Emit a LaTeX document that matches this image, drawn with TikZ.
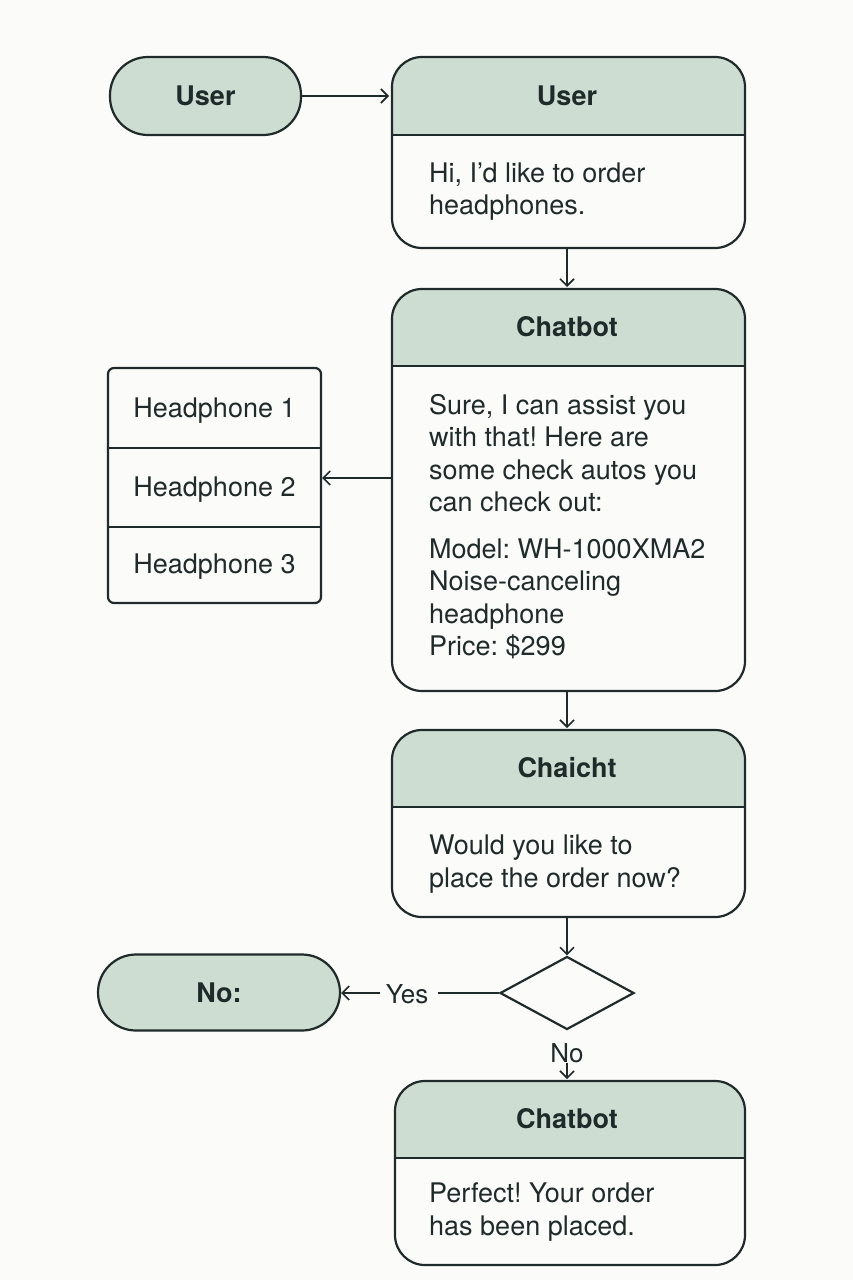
\documentclass[tikz,border=0pt]{standalone}
\usepackage{fontspec}
\setmainfont{TeX Gyre Heros}
\usetikzlibrary{arrows.meta,shapes.geometric}
\definecolor{sage}{HTML}{CEDDD1}
\definecolor{ink}{HTML}{1F2A2A}
\definecolor{bg}{HTML}{FBFBFA}
\frenchspacing
\tikzset{
  arr/.style={draw=ink, line width=1.6pt, -{Straight Barb[length=7pt,width=14pt,line width=1.6pt]}},
  bigbox/.style={draw=ink, line width=2.2pt, rounded corners=30, inner sep=0pt},
  pill/.style={draw=ink, line width=2.2pt, fill=sage, rounded corners=38, inner sep=0pt, font=\fontsize{27}{30}\selectfont\bfseries, text=ink},
  head/.style={font=\fontsize{27}{30}\selectfont\bfseries, text=ink, inner sep=0pt},
  lab/.style={font=\fontsize{26}{30}\selectfont, text=ink, inner sep=0pt},
  body/.style={font=\fontsize{27}{32.5}\selectfont, text=ink, align=left, anchor=north west, inner sep=0pt},
  item/.style={font=\fontsize{27}{30}\selectfont, text=ink, inner sep=0pt},
  divider/.style={draw=ink, line width=2.2pt},
}
\begin{document}
\begin{tikzpicture}[x=1pt,y=-1pt]
\fill[bg] (0,0) rectangle (853,1280);
\useasboundingbox (0,0) rectangle (853,1280);

% User pill
\node[pill, minimum width=191, minimum height=78] (u0) at (205.5,96) {User};

% Box 1
\fill[sage] (392,135) [rounded corners=30] -- (392,57) -- (745,57) [sharp corners] -- (745,135) -- cycle;
\node[bigbox, minimum width=353, minimum height=191] (b1) at (568.5,152.5) {};
\draw[divider] (392,135) -- (745,135);
\node[head] (h1) at (567,96) {User};
\node[body] (t1) at (429,162.5) {Hi, I’d like to order\\headphones.};

% Box 2
\fill[sage] (392,366) [rounded corners=30] -- (392,289) -- (745,289) [sharp corners] -- (745,366) -- cycle;
\node[bigbox, minimum width=353, minimum height=402] (b2) at (568.5,490) {};
\draw[divider] (392,366) -- (745,366);
\node[head] (h2) at (567,327) {Chatbot};
\node[body] (t2) at (429,394) {Sure, I can assist you\\with that! Here are\\some check autos you\\can check out:};
\node[body] (t3) at (429,538.5) {Model: WH-1000XMA2\\Noise-canceling\\headphone\\Price: \$299};

% Headphones list
\node[draw=ink, line width=2.2pt, rounded corners=6, minimum width=213, minimum height=235, inner sep=0pt] (lst) at (214.5,485.5) {};
\draw[divider] (108,448) -- (321,448);
\draw[divider] (108,527) -- (321,527);
\node[item] (i1) at (214.5,411) {Headphone 1};
\node[item] (i2) at (214.5,490) {Headphone 2};
\node[item] (i3) at (214.5,567) {Headphone 3};

% Box 3
\fill[sage] (392,807) [rounded corners=30] -- (392,730) -- (745,730) [sharp corners] -- (745,807) -- cycle;
\node[bigbox, minimum width=353, minimum height=187] (b3) at (568.5,823.5) {};
\draw[divider] (392,807) -- (745,807);
\node[head] (h3) at (567,768) {Chaicht};
\node[body] (t4) at (429,835) {Would you like to\\place the order now?};

% Diamond
\node[draw=ink, line width=2.2pt, diamond, minimum width=134, minimum height=73, inner sep=0pt] (dm) at (567,993) {};

% No: pill
\node[pill, minimum width=242, minimum height=76] (no) at (219,992.5) {No:};
\node[lab] (yes) at (407,994) {Yes};
\node[lab] (nolab) at (567,1053) {No};

% Box 4
\fill[sage] (395,1158) [rounded corners=30] -- (395,1081) -- (745,1081) [sharp corners] -- (745,1158) -- cycle;
\node[bigbox, minimum width=350, minimum height=184] (b4) at (570,1173) {};
\draw[divider] (395,1158) -- (745,1158);
\node[head] (h4) at (567,1119) {Chatbot};
\node[body] (t5) at (429,1183) {Perfect! Your order\\has been placed.};

% Connectors
\draw[arr] (u0.east) -- (389,96);
\draw[arr] (567,248) -- (567,287);
\draw[arr] (b2.west |- 0,478) -- (lst.east |- 0,478);
\draw[arr] (567,691) -- (567,728);
\draw[arr] (567,917) -- (dm.north);
\draw[line width=1.6pt, draw=ink] (dm.west) -- ([xshift=10pt]yes.east |- dm.west);
\draw[arr] ([xshift=-6pt]yes.west |- dm.west) -- (no.east |- dm.west);
\draw[arr] (nolab.south) -- (567,1079);
\end{tikzpicture}
\end{document}
